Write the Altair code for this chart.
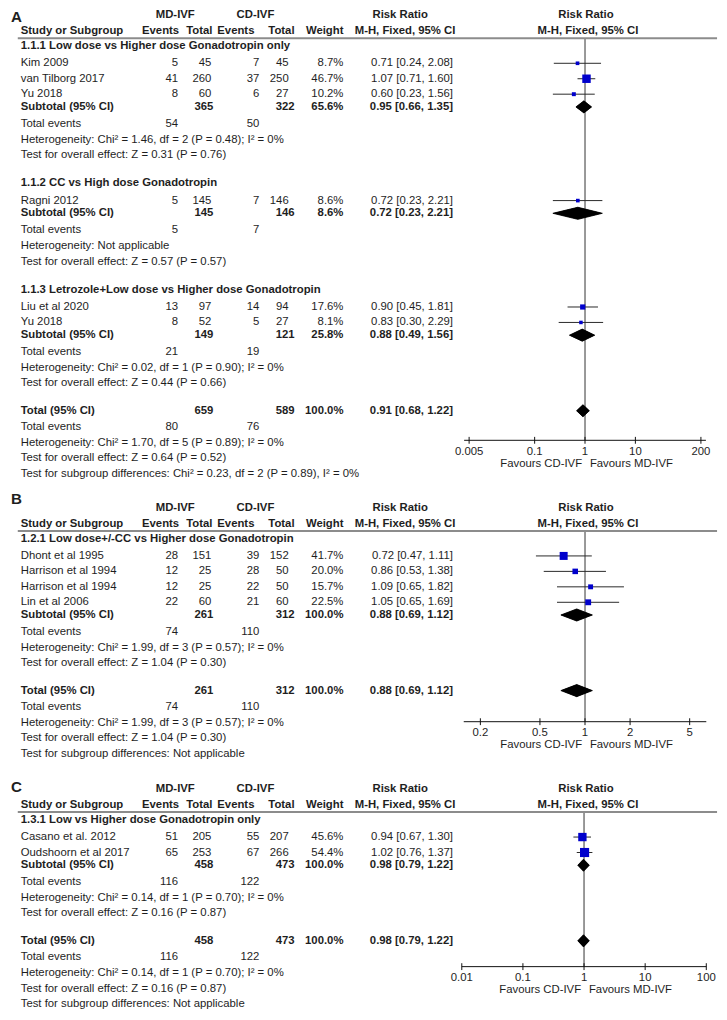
import altair as alt
import pandas as pd

# ---------------- layout constants ----------------
S = 0.978                      # uniform scale so the figure fits the page
FONT = "Liberation Sans, Arial, Helvetica, sans-serif"
FS = 11.6 * S
TXT = "#1e1e1e"
BLUE = "#0000CC"
W = 727 * S

# ---------------- data: panel A ----------------
A_groups = ["1.1.1 Low dose vs Higher dose Gonadotropin only",
            "1.1.2 CC vs High dose Gonadotropin",
            "1.1.3 Letrozole+Low dose vs Higher dose Gonadotropin"]
A_study = ["Kim 2009", "van Tilborg 2017", "Yu 2018", "Ragni 2012", "Liu et al 2020", "Yu 2018"]
A_study_group = [0, 0, 0, 1, 2, 2]
A_md_events = [5, 41, 8, 5, 13, 8]
A_md_total = [45, 260, 60, 145, 97, 52]
A_cd_events = [7, 37, 6, 7, 14, 5]
A_cd_total = [45, 250, 27, 146, 94, 27]
A_weight = [8.7, 46.7, 10.2, 8.6, 17.6, 8.1]
A_rr = [0.71, 1.07, 0.60, 0.72, 0.90, 0.83]
A_lo = [0.24, 0.71, 0.23, 0.23, 0.45, 0.30]
A_hi = [2.08, 1.60, 1.56, 2.21, 1.81, 2.29]
A_sub_md_total = [365, 145, 149]
A_sub_cd_total = [322, 146, 121]
A_sub_weight = [65.6, 8.6, 25.8]
A_sub_rr = [0.95, 0.72, 0.88]
A_sub_lo = [0.66, 0.23, 0.49]
A_sub_hi = [1.35, 2.21, 1.56]
A_sub_md_events = [54, 5, 21]
A_sub_cd_events = [50, 7, 19]
A_sub_het = ["Heterogeneity: Chi² = 1.46, df = 2 (P = 0.48); I² = 0%",
             "Heterogeneity: Not applicable",
             "Heterogeneity: Chi² = 0.02, df = 1 (P = 0.90); I² = 0%"]
A_sub_z = ["Test for overall effect: Z = 0.31 (P = 0.76)",
           "Test for overall effect: Z = 0.57 (P = 0.57)",
           "Test for overall effect: Z = 0.44 (P = 0.66)"]
A_total = [659, 589, 100.0, 0.91, 0.68, 1.22, 80, 76]
A_total_het = "Heterogeneity: Chi² = 1.70, df = 5 (P = 0.89); I² = 0%"
A_total_z = "Test for overall effect: Z = 0.64 (P = 0.52)"
A_total_diff = "Test for subgroup differences: Chi² = 0.23, df = 2 (P = 0.89), I² = 0%"
A_ticks = [0.005, 0.1, 1, 10, 200]
A_tick_labels = ["0.005", "0.1", "1", "10", "200"]

# ---------------- data: panel B ----------------
B_groups = ["1.2.1 Low dose+/-CC vs Higher dose Gonadotropin"]
B_study = ["Dhont et al 1995", "Harrison et al 1994", "Harrison et al 1994", "Lin et al 2006"]
B_study_group = [0, 0, 0, 0]
B_md_events = [28, 12, 12, 22]
B_md_total = [151, 25, 25, 60]
B_cd_events = [39, 28, 22, 21]
B_cd_total = [152, 50, 50, 60]
B_weight = [41.7, 20.0, 15.7, 22.5]
B_rr = [0.72, 0.86, 1.09, 1.05]
B_lo = [0.47, 0.53, 0.65, 0.65]
B_hi = [1.11, 1.38, 1.82, 1.69]
B_sub_md_total = [261]
B_sub_cd_total = [312]
B_sub_weight = [100.0]
B_sub_rr = [0.88]
B_sub_lo = [0.69]
B_sub_hi = [1.12]
B_sub_md_events = [74]
B_sub_cd_events = [110]
B_sub_het = ["Heterogeneity: Chi² = 1.99, df = 3 (P = 0.57); I² = 0%"]
B_sub_z = ["Test for overall effect: Z = 1.04 (P = 0.30)"]
B_total = [261, 312, 100.0, 0.88, 0.69, 1.12, 74, 110]
B_total_het = "Heterogeneity: Chi² = 1.99, df = 3 (P = 0.57); I² = 0%"
B_total_z = "Test for overall effect: Z = 1.04 (P = 0.30)"
B_total_diff = "Test for subgroup differences: Not applicable"
B_ticks = [0.2, 0.5, 1, 2, 5]
B_tick_labels = ["0.2", "0.5", "1", "2", "5"]

# ---------------- data: panel C ----------------
C_groups = ["1.3.1 Low vs Higher dose Gonadotropin only"]
C_study = ["Casano et al. 2012", "Oudshoorn et al 2017"]
C_study_group = [0, 0]
C_md_events = [51, 65]
C_md_total = [205, 253]
C_cd_events = [55, 67]
C_cd_total = [207, 266]
C_weight = [45.6, 54.4]
C_rr = [0.94, 1.02]
C_lo = [0.67, 0.76]
C_hi = [1.30, 1.37]
C_sub_md_total = [458]
C_sub_cd_total = [473]
C_sub_weight = [100.0]
C_sub_rr = [0.98]
C_sub_lo = [0.79]
C_sub_hi = [1.22]
C_sub_md_events = [116]
C_sub_cd_events = [122]
C_sub_het = ["Heterogeneity: Chi² = 0.14, df = 1 (P = 0.70); I² = 0%"]
C_sub_z = ["Test for overall effect: Z = 0.16 (P = 0.87)"]
C_total = [458, 473, 100.0, 0.98, 0.79, 1.22, 116, 122]
C_total_het = "Heterogeneity: Chi² = 0.14, df = 1 (P = 0.70); I² = 0%"
C_total_z = "Test for overall effect: Z = 0.16 (P = 0.87)"
C_total_diff = "Test for subgroup differences: Not applicable"
C_ticks = [0.01, 0.1, 1, 10, 100]
C_tick_labels = ["0.01", "0.1", "1", "10", "100"]


def fmt_rr(r, l, h):
    return f"{r:.2f} [{l:.2f}, {h:.2f}]"


def build_panel(letter, letter_y, L, y0, y1, axis_y, dom, xr, d):
    ysc = alt.Scale(domain=[y0, y1], range=[0, (y1 - y0) * S], nice=False, zero=False)
    xsc = alt.Scale(type="log", domain=dom, range=[xr[0] * S, xr[1] * S], nice=False)

    rows, studies, diamonds, outline = [], [], [], []
    HH = 6.2  # diamond half height (layout, in reference px)

    def add(kind, y, **kw):
        r = dict(kind=kind, y=y, name="", mde="", mdt="", cde="", cdt="", wt="", rrt="")
        r.update(kw)
        rows.append(r)

    def add_diamond(key, y, r, l, h):
        diamonds.extend([
            dict(id=key, xv=l, yt=y, yb=y),
            dict(id=key, xv=r, yt=y - HH, yb=y + HH),
            dict(id=key, xv=h, yt=y, yb=y),
        ])
        for k, (xv, yv) in enumerate([(l, y), (r, y - HH), (h, y), (r, y + HH), (l, y)]):
            outline.append(dict(id=key, k=k, xv=xv, yv=yv))

    y = L + 8
    for gi, g in enumerate(d["groups"]):
        if gi > 0:
            y += 29
        add("group", y, name=g)
        idx = [i for i, sg in enumerate(d["study_group"]) if sg == gi]
        for k, i in enumerate(idx):
            y += 17.5 if k == 0 else 15.8
            add("study", y, name=d["study"][i], mde=str(d["mde"][i]), mdt=str(d["mdt"][i]),
                cde=str(d["cde"][i]), cdt=str(d["cdt"][i]), wt=f"{d['w'][i]:.1f}%",
                rrt=fmt_rr(d["rr"][i], d["lo"][i], d["hi"][i]))
            studies.append(dict(y=y, rr=d["rr"][i], lo=d["lo"][i], hi=d["hi"][i], w=d["w"][i]))
        y += 13
        add("sub", y, name="Subtotal (95% CI)", mdt=str(d["s_mdt"][gi]), cdt=str(d["s_cdt"][gi]),
            wt=f"{d['s_w'][gi]:.1f}%", rrt=fmt_rr(d["s_rr"][gi], d["s_lo"][gi], d["s_hi"][gi]))
        add_diamond(f"s{gi}", y, d["s_rr"][gi], d["s_lo"][gi], d["s_hi"][gi])
        y += 17.5
        add("events", y, name="Total events", mde=str(d["s_mde"][gi]), cde=str(d["s_cde"][gi]))
        y += 16
        add("note", y, name=d["s_het"][gi])
        y += 15.8
        add("note", y, name=d["s_z"][gi])
    t = d["tot"]
    y += 28
    add("total", y, name="Total (95% CI)", mdt=str(t[0]), cdt=str(t[1]), wt=f"{t[2]:.1f}%",
        rrt=fmt_rr(t[3], t[4], t[5]))
    add_diamond("tot", y, t[3], t[4], t[5])
    y += 17
    add("events", y, name="Total events", mde=str(t[6]), cde=str(t[7]))
    y += 16
    add("note", y, name=d["t_het"])
    y += 15.8
    add("note", y, name=d["t_z"])
    y += 15.8
    add("note", y, name=d["t_diff"])

    df = pd.DataFrame(rows)
    bold_kinds = ["group", "sub", "total"]
    df_b = df[df["kind"].isin(bold_kinds)]
    df_n = df[~df["kind"].isin(bold_kinds)]

    layers = []

    def text_layer(data, field, x, align, bold, size=FS, color=TXT, xenc=None, dx=0):
        enc = dict(y=alt.Y("y:Q", scale=ysc, axis=None), text=f"{field}:N")
        enc["x"] = alt.value(x * S) if xenc is None else xenc
        return alt.Chart(data).mark_text(
            align=align, baseline="middle", font=FONT, fontSize=size,
            fontWeight="bold" if bold else "normal", color=color, dx=dx
        ).encode(**enc)

    # vertical line of no effect
    vdf = pd.DataFrame({"x": [1], "ya": [L], "yb": [axis_y]})
    layers.append(alt.Chart(vdf).mark_rule(color="#808080", strokeWidth=1.6).encode(
        x=alt.X("x:Q", scale=xsc, axis=None), y=alt.Y("ya:Q", scale=ysc, axis=None), y2="yb:Q"))

    # header line
    hdf = pd.DataFrame({"y": [L]})
    layers.append(alt.Chart(hdf).mark_rule(color="#8c8c8c", strokeWidth=2).encode(
        x=alt.value(10 * S), x2=alt.value(725 * S), y=alt.Y("y:Q", scale=ysc, axis=None)))

    # header texts
    def hdr(t, x, yy, align, bold=True, size=FS):
        return text_layer(pd.DataFrame({"t": [t], "y": [yy]}), "t", x, align, bold, size=size)

    layers += [
        hdr(letter, 3, letter_y, "left", size=15.5 * S),
        hdr("MD-IVF", 171, L - 24, "center"),
        hdr("CD-IVF", 253, L - 24, "center"),
        hdr("Risk Ratio", 401, L - 24, "center"),
        hdr("Risk Ratio", 591, L - 24, "center"),
        hdr("Study or Subgroup", 13, L - 7, "left"),
        hdr("Events", 175, L - 7, "right"),
        hdr("Total", 209, L - 7, "right"),
        hdr("Events", 252, L - 7, "right"),
        hdr("Total", 293, L - 7, "right"),
        hdr("Weight", 343, L - 7, "right"),
        hdr("M-H, Fixed, 95% CI", 406, L - 7, "center"),
        hdr("M-H, Fixed, 95% CI", 593, L - 7, "center"),
    ]

    cols_n = [("name", 13, "left"), ("mde", 174, "right"), ("mdt", 208, "right"),
              ("cde", 257, "right"), ("cdt", 287, "right"), ("wt", 343, "right"), ("rrt", 455, "right")]
    cols_b = [("name", 13, "left"), ("mdt", 210, "right"), ("cdt", 293, "right"),
              ("wt", 343, "right"), ("rrt", 455, "right")]
    for f, x, a in cols_n:
        layers.append(text_layer(df_n, f, x, a, False))
    for f, x, a in cols_b:
        layers.append(text_layer(df_b, f, x, a, True))

    # forest: CI lines, squares, diamonds
    sdf = pd.DataFrame(studies)
    layers.append(alt.Chart(sdf).mark_rule(color="#2a2a2a", strokeWidth=1).encode(
        x=alt.X("lo:Q", scale=xsc, axis=None), x2="hi:Q", y=alt.Y("y:Q", scale=ysc, axis=None)))
    layers.append(alt.Chart(sdf).mark_square(color=BLUE, opacity=1).encode(
        x=alt.X("rr:Q", scale=xsc, axis=None), y=alt.Y("y:Q", scale=ysc, axis=None),
        size=alt.Size("w:Q", scale=alt.Scale(domain=[0, 100], range=[0, 160 * S * S]), legend=None)))
    ddf = pd.DataFrame(diamonds)
    layers.append(alt.Chart(ddf).mark_area(color="black", opacity=1, orient="vertical").encode(
        x=alt.X("xv:Q", scale=xsc, axis=None),
        y=alt.Y("yt:Q", scale=ysc, axis=None, stack=None), y2="yb:Q",
        detail="id:N"))
    odf = pd.DataFrame(outline)
    layers.append(alt.Chart(odf).mark_line(color="black", fill="black", strokeWidth=0.8,
                                           interpolate="linear").encode(
        x=alt.X("xv:Q", scale=xsc, axis=None), y=alt.Y("yv:Q", scale=ysc, axis=None),
        detail="id:N", order=alt.Order("k:Q")))

    # axis
    adf = pd.DataFrame({"a": [dom[0]], "b": [dom[1]], "y": [axis_y]})
    layers.append(alt.Chart(adf).mark_rule(color="#111", strokeWidth=1).encode(
        x=alt.X("a:Q", scale=xsc, axis=None), x2="b:Q", y=alt.Y("y:Q", scale=ysc, axis=None)))
    tdf = pd.DataFrame({"t": d["ticks"], "lab": d["tick_labels"],
                        "ya": [axis_y - 3.5] * len(d["ticks"]), "yb": [axis_y + 3.5] * len(d["ticks"]),
                        "y": [axis_y + 12] * len(d["ticks"])})
    layers.append(alt.Chart(tdf).mark_rule(color="#111", strokeWidth=1).encode(
        x=alt.X("t:Q", scale=xsc, axis=None), y=alt.Y("ya:Q", scale=ysc, axis=None), y2="yb:Q"))
    layers.append(text_layer(tdf, "lab", 0, "center", False,
                             xenc=alt.X("t:Q", scale=xsc, axis=None)))
    fdf = pd.DataFrame({"x": [1], "y": [axis_y + 24], "l": ["Favours CD-IVF"], "r": ["Favours MD-IVF"]})
    layers.append(text_layer(fdf, "l", 0, "right", False, xenc=alt.X("x:Q", scale=xsc, axis=None), dx=-3 * S))
    layers.append(text_layer(fdf, "r", 0, "left", False, xenc=alt.X("x:Q", scale=xsc, axis=None), dx=5 * S))

    return alt.layer(*layers).properties(width=W, height=(y1 - y0) * S)


def pack(p):
    g = globals()
    return dict(groups=g[p + "_groups"], study=g[p + "_study"], study_group=g[p + "_study_group"],
                mde=g[p + "_md_events"], mdt=g[p + "_md_total"], cde=g[p + "_cd_events"],
                cdt=g[p + "_cd_total"], w=g[p + "_weight"], rr=g[p + "_rr"], lo=g[p + "_lo"],
                hi=g[p + "_hi"], s_mdt=g[p + "_sub_md_total"], s_cdt=g[p + "_sub_cd_total"],
                s_w=g[p + "_sub_weight"], s_rr=g[p + "_sub_rr"], s_lo=g[p + "_sub_lo"],
                s_hi=g[p + "_sub_hi"], s_mde=g[p + "_sub_md_events"], s_cde=g[p + "_sub_cd_events"],
                s_het=g[p + "_sub_het"], s_z=g[p + "_sub_z"], tot=g[p + "_total"],
                t_het=g[p + "_total_het"], t_z=g[p + "_total_z"], t_diff=g[p + "_total_diff"],
                ticks=g[p + "_ticks"], tick_labels=g[p + "_tick_labels"])


pA = build_panel("A", 8, 30, 0, 487, 441, [10 ** -2.4, 10 ** 2.4], [466.4, 713.6], pack("A"))
pB = build_panel("B", 500, 533, 487, 780, 728, [10 ** -0.81, 10 ** 0.81], [466, 714], pack("B"))
pC = build_panel("C", 794, 820, 780, 1020, 978, [0.01, 100], [464, 714], pack("C"))

chart = alt.vconcat(pA, pB, pC, spacing=0, bounds="flush").properties(
    padding=0, background="white"
).configure_view(stroke=None)

chart.save("out.html", embed_options={"renderer": "svg", "actions": False})
